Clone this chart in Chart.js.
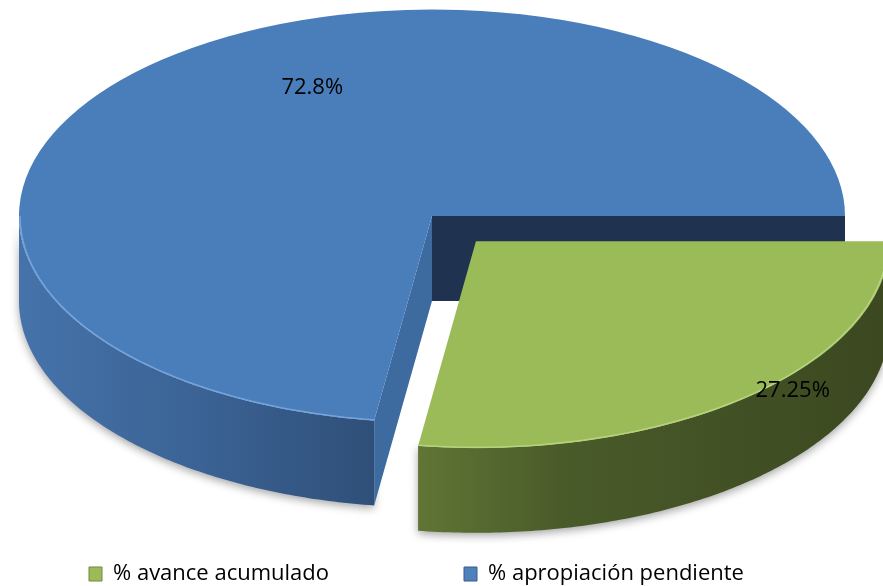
<!DOCTYPE html>
<html>
<head>
<meta charset="utf-8">
<script src="https://cdn.jsdelivr.net/npm/chart.js@4.4.1/dist/chart.umd.min.js"></script>
<style>html,body{margin:0;padding:0;background:#fff;overflow:hidden}canvas{display:block}</style>
</head>
<body>
<canvas id="c" width="883" height="586"></canvas>
<script>
// ---- data ----
const categories = ['% avance acumulado', '% apropiación pendiente'];
const values = [27.25, 72.8];
const valueLabels = values.map(v => v + '%');

// ---- styles ----
const topColors = ['#9BBB59', '#4A7EBB'];
const legendColors = ['#9BBB59', '#4F81BD'];
const legendBorders = ['#71893F', '#385D8A'];
const sideStops = [
  [[0, '#607535'], [0.3, '#4A5B2A'], [1, '#3B4820']],
  [[0, '#4573AA'], [0.5, '#3B6395'], [1, '#2F4F78']]
];
const startWallColors = ['#4E6130', '#3D6A9F'];
const endWallColors = ['#3A4720', '#1F3350'];
const rimColors = ['#B7D27F', '#76A4DA'];
const explodeOffsets = [268, 0];
const labelShiftDeg = [-5.6, 15.9];
const labelRadius = [1.056, 0.684];

// ---- layout ----
const CX = 432, CY = 216, TILT = 0.5, DEPTH = 85, RADIUS = 413;
const FONT_FAMILY = '"Open Sans", "DejaVu Sans", sans-serif';
const FONT_SIZE = 22;
const BOX_W = 13, BOX_H = 14, BOX1_X = 89, BOX2_X = 464;

const mctx = document.createElement('canvas').getContext('2d');
mctx.font = FONT_SIZE + 'px ' + FONT_FAMILY;
const T1 = mctx.measureText(categories[0]).width;
const LEGEND_GAP = BOX2_X - BOX1_X - (BOX_W + FONT_SIZE / 2 + T1);

function geom(el) {
  const off = (el.options.offset || 0) / 4;
  const half = (el.startAngle + el.endAngle) / 2;
  const ox = Math.cos(half) * off, oy = Math.sin(half) * off;
  const r = el.outerRadius;
  return {
    half, r,
    pt: (a, rr, dz) => [CX + ox + rr * Math.cos(a), CY + TILT * (oy + rr * Math.sin(a)) + dz]
  };
}
function frontRanges(s, e) {
  const out = [];
  for (let k = -1; k <= 1; k++) {
    const a0 = Math.max(s, 2 * Math.PI * k), a1 = Math.min(e, 2 * Math.PI * k + Math.PI);
    if (a1 > a0) out.push([a0, a1]);
  }
  return out;
}
function quad(ctx, g, a, color) {
  const c0 = g.pt(a, 0, 0), e0 = g.pt(a, g.r, 0), e1 = g.pt(a, g.r, DEPTH), c1 = g.pt(a, 0, DEPTH);
  ctx.beginPath();
  ctx.moveTo(c0[0], c0[1]); ctx.lineTo(e0[0], e0[1]); ctx.lineTo(e1[0], e1[1]); ctx.lineTo(c1[0], c1[1]);
  ctx.closePath();
  ctx.fillStyle = color;
  ctx.fill();
}
function outer(ctx, g, a0, a1, i) {
  const n = Math.max(12, Math.ceil((a1 - a0) * 80));
  const top = [], bot = [];
  for (let j = 0; j <= n; j++) {
    const a = a0 + (a1 - a0) * j / n;
    top.push(g.pt(a, g.r, 0)); bot.push(g.pt(a, g.r, DEPTH));
  }
  ctx.beginPath();
  top.forEach((p, j) => j ? ctx.lineTo(p[0], p[1]) : ctx.moveTo(p[0], p[1]));
  for (let j = n; j >= 0; j--) ctx.lineTo(bot[j][0], bot[j][1]);
  ctx.closePath();
  const xs = top.map(p => p[0]);
  const grad = ctx.createLinearGradient(Math.min(...xs), 0, Math.max(...xs), 0);
  sideStops[i].forEach(s => grad.addColorStop(s[0], s[1]));
  ctx.fillStyle = grad;
  ctx.save();
  ctx.shadowColor = 'rgba(0,0,0,0.35)'; ctx.shadowBlur = 8; ctx.shadowOffsetY = 3;
  ctx.fill();
  ctx.restore();
}

const pie3d = {
  id: 'pie3d',
  beforeDatasetsDraw(chart) {
    const ctx = chart.ctx;
    const els = chart.getDatasetMeta(0).data;
    ctx.save();
    for (let i = els.length - 1; i >= 0; i--) {
      const el = els[i], g = geom(el);
      frontRanges(el.startAngle, el.endAngle).forEach(r => outer(ctx, g, r[0], r[1], i));
      if (Math.cos(el.startAngle) < 0) quad(ctx, g, el.startAngle, startWallColors[i]);
      if (Math.cos(el.endAngle) > 0) quad(ctx, g, el.endAngle, endWallColors[i]);
    }
    ctx.restore();
    const ref = els[0];
    ctx.save();
    ctx.translate(CX, CY);
    ctx.scale(1, TILT);
    ctx.translate(-ref.x, -ref.y);
  },
  afterDatasetsDraw(chart) {
    const ctx = chart.ctx;
    ctx.restore();
    const els = chart.getDatasetMeta(0).data;
    ctx.save();
    ctx.lineWidth = 1.5;
    els.forEach((el, i) => {
      const g = geom(el);
      frontRanges(el.startAngle, el.endAngle).forEach(([a0, a1]) => {
        ctx.beginPath();
        const n = 60;
        for (let j = 0; j <= n; j++) {
          const p = g.pt(a0 + (a1 - a0) * j / n, g.r - 1, 0);
          j ? ctx.lineTo(p[0], p[1]) : ctx.moveTo(p[0], p[1]);
        }
        ctx.strokeStyle = rimColors[i];
        ctx.stroke();
      });
    });
    ctx.fillStyle = '#000';
    ctx.font = FONT_SIZE + 'px ' + FONT_FAMILY;
    ctx.textAlign = 'center';
    ctx.textBaseline = 'middle';
    els.forEach((el, i) => {
      const g = geom(el);
      const p = g.pt(g.half + labelShiftDeg[i] * Math.PI / 180, g.r * labelRadius[i], 0);
      ctx.fillText(valueLabels[i], p[0], p[1]);
    });
    ctx.restore();
  }
};

new Chart(document.getElementById('c'), {
  type: 'pie',
  data: {
    labels: categories,
    datasets: [{
      data: values,
      backgroundColor: topColors,
      borderWidth: 0,
      offset: explodeOffsets,
      clip: false
    }]
  },
  options: {
    responsive: false,
    animation: false,
    events: [],
    rotation: 90,
    radius: RADIUS,
    layout: { padding: { left: BOX1_X - LEGEND_GAP, right: -300, top: 0, bottom: -9 } },
    plugins: {
      tooltip: { enabled: false },
      legend: {
        position: 'bottom',
        align: 'start',
        labels: {
          boxWidth: BOX_W,
          boxHeight: BOX_H,
          padding: LEGEND_GAP,
          color: '#000',
          font: { family: FONT_FAMILY, size: FONT_SIZE },
          generateLabels: () => categories.map((t, i) => ({
            text: t, fillStyle: legendColors[i], strokeStyle: legendBorders[i],
            lineWidth: 1, hidden: false, index: i, datasetIndex: 0
          }))
        }
      }
    }
  },
  plugins: [pie3d]
});
</script>
</body>
</html>
